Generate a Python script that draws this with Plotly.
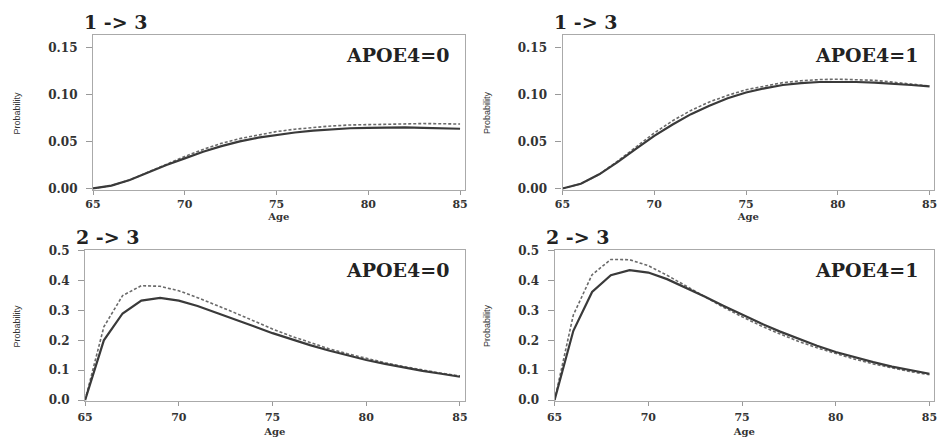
import plotly.graph_objects as go

ages = list(range(65, 86))

p13_a0_solid = [0.000, 0.003, 0.009, 0.017, 0.025, 0.032, 0.039, 0.045, 0.050, 0.054, 0.057,
                0.0595, 0.0615, 0.063, 0.064, 0.0645, 0.065, 0.065, 0.0645, 0.064, 0.0635]
p13_a0_dash = [0.000, 0.003, 0.009, 0.0175, 0.026, 0.034, 0.0415, 0.048, 0.053, 0.057, 0.0605,
               0.063, 0.065, 0.0665, 0.0675, 0.068, 0.0685, 0.069, 0.069, 0.0688, 0.0685]

p13_a1_solid = [0.000, 0.005, 0.015, 0.028, 0.042, 0.056, 0.068, 0.079, 0.088, 0.096, 0.102,
                0.1065, 0.110, 0.112, 0.1132, 0.1135, 0.1132, 0.1125, 0.1115, 0.110, 0.1085]
p13_a1_dash = [0.000, 0.005, 0.015, 0.029, 0.044, 0.059, 0.072, 0.083, 0.092, 0.099, 0.105,
               0.109, 0.1125, 0.1145, 0.1158, 0.1162, 0.116, 0.115, 0.113, 0.111, 0.109]

p23_a0_solid = [0.0, 0.20, 0.29, 0.333, 0.342, 0.333, 0.315, 0.293, 0.270, 0.247, 0.224,
                0.203, 0.184, 0.166, 0.150, 0.134, 0.121, 0.109, 0.098, 0.088, 0.078]
p23_a0_dash = [0.0, 0.245, 0.35, 0.383, 0.381, 0.366, 0.343, 0.318, 0.292, 0.265, 0.238,
               0.214, 0.192, 0.172, 0.155, 0.139, 0.125, 0.112, 0.100, 0.090, 0.081]

p23_a1_solid = [0.0, 0.232, 0.362, 0.418, 0.435, 0.427, 0.405, 0.377, 0.347, 0.316, 0.286,
                0.257, 0.230, 0.205, 0.182, 0.161, 0.143, 0.127, 0.112, 0.099, 0.088]
p23_a1_dash = [0.0, 0.285, 0.42, 0.471, 0.47, 0.45, 0.418, 0.383, 0.346, 0.311, 0.279,
               0.249, 0.222, 0.197, 0.175, 0.155, 0.137, 0.121, 0.107, 0.095, 0.085]

x_ticks = [65, 70, 75, 80, 85]
y_ticks_top = [0.00, 0.05, 0.10, 0.15]
y_ticks_top_text = ["0.00", "0.05", "0.10", "0.15"]
y_ticks_bot = [0.0, 0.1, 0.2, 0.3, 0.4, 0.5]
y_ticks_bot_text = ["0.0", "0.1", "0.2", "0.3", "0.4", "0.5"]

panel_titles = ["1 -> 3", "1 -> 3", "2 -> 3", "2 -> 3"]
panel_labels = ["APOE4=0", "APOE4=1", "APOE4=0", "APOE4=1"]

W, H = 951, 441
# panel boxes in pixels: (left, right, top, bottom)
boxes = [(86, 462, 30, 189), (561, 937, 30, 189), (78, 462, 251, 406), (553, 937, 251, 406)]
series = [(p13_a0_solid, p13_a0_dash), (p13_a1_solid, p13_a1_dash),
          (p23_a0_solid, p23_a0_dash), (p23_a1_solid, p23_a1_dash)]

serif = "DejaVu Serif, serif"
fig = go.Figure()
layout = dict(width=W, height=H, margin=dict(l=0, r=0, t=0, b=0),
              paper_bgcolor="white", plot_bgcolor="white", showlegend=False)
annotations = []
for i, ((l, r, t, b), (sol, das)) in enumerate(zip(boxes, series)):
    xa = "xaxis" if i == 0 else f"xaxis{i+1}"
    ya = "yaxis" if i == 0 else f"yaxis{i+1}"
    xr = "x" if i == 0 else f"x{i+1}"
    yr = "y" if i == 0 else f"y{i+1}"
    top = i < 2
    fig.add_trace(go.Scatter(x=ages, y=das, mode="lines", xaxis=xr, yaxis=yr,
                             line=dict(color="#6a6a6a", width=1.6, dash="3px,2px")))
    fig.add_trace(go.Scatter(x=ages, y=sol, mode="lines", xaxis=xr, yaxis=yr,
                             line=dict(color="#3a3a3a", width=2.2)))
    layout[xa] = dict(domain=[l / W, r / W], range=[65, 85.25], anchor=yr,
                      tickvals=x_ticks, ticktext=[f"<b>{v}</b>" for v in x_ticks],
                      ticks="outside", ticklen=4, tickcolor="#999", showgrid=False,
                      zeroline=False, showline=True, linecolor="#aaa", linewidth=1.2, mirror=True,
                      tickfont=dict(family=serif, size=11, color="#333"),
                      ticklabelstandoff=0 if top else 2,
                      title=dict(text="<b>Age</b>", font=dict(family=serif, size=10, color="#333"),
                                 standoff=2 if top else 4))
    if top:
        yr_range = [-0.0015, 0.163]
        tv, tt = y_ticks_top, y_ticks_top_text
    else:
        yr_range = [-0.003, 0.502]
        tv, tt = y_ticks_bot, y_ticks_bot_text
    layout[ya] = dict(domain=[1 - b / H, 1 - t / H], range=yr_range, anchor=xr,
                      tickvals=tv, ticktext=[f"<b>{s}</b>" for s in tt],
                      ticks="outside", ticklen=6, tickcolor="#999", showgrid=False,
                      zeroline=False, showline=True, linecolor="#aaa", linewidth=1.2, mirror=True,
                      ticklabelstandoff=6,
                      tickfont=dict(family=serif, size=12, color="#333"))
    # y axis title
    annotations.append(dict(text="Probability", xref="paper", yref="paper",
                            x=(l - 77) / W if top else (l - 69) / W,
                            y=1 - ((t + b) / 2) / H, textangle=-90, showarrow=False,
                            font=dict(family="Liberation Sans Narrow, Arial Narrow, sans-serif",
                                      size=9, color="#333"),
                            xanchor="center", yanchor="middle"))
    annotations.append(dict(text=f"<b>{panel_titles[i]}</b>", xref="paper", yref="paper",
                            x=(l - 11) / W, y=1 - (t - 14) / H, showarrow=False,
                            xanchor="left", yanchor="middle",
                            font=dict(family=serif, size=19, color="#222")))
    annotations.append(dict(text=f"<b>{panel_labels[i]}</b>", xref="paper", yref="paper",
                            x=(r - 14) / W, y=1 - (t + 20) / H, showarrow=False,
                            xanchor="right", yanchor="middle",
                            font=dict(family=serif, size=19, color="#222")))

layout["annotations"] = annotations
fig.update_layout(**layout)
fig.write_html("out.html", config={"displayModeBar": False},
               post_script="document.body.style.margin='0';document.body.style.padding='0';")
